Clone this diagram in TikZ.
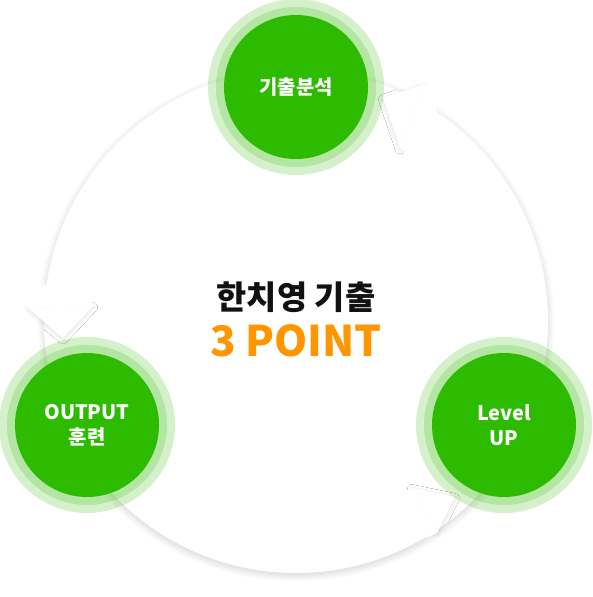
\documentclass[tikz,border=0pt]{standalone}
\usepackage{fontspec}
\setmainfont{Noto Sans CJK KR}
\usetikzlibrary{shadows.blur}
\definecolor{stagegreen}{RGB}{45,187,0}
\definecolor{pointorange}{RGB}{255,150,0}
\definecolor{titleblack}{RGB}{17,17,17}

\begin{document}
\begin{tikzpicture}[x=0.3mm,y=-0.3mm,
  stage/.style={circle,fill=stagegreen,minimum size=43.2mm,inner sep=0pt,align=center,text=white,
    font=\fontsize{17}{21}\selectfont\bfseries,
    preaction={draw=stagegreen,draw opacity=0.2,line width=9.6mm},
    preaction={draw=stagegreen,draw opacity=0.2,line width=4.8mm}},
  ring/.style={fill=white,blur shadow={shadow xshift=0pt,shadow yshift=-2pt,shadow blur radius=6pt,shadow blur steps=14,shadow opacity=18}},
  head/.style={fill=white,blur shadow={shadow xshift=0pt,shadow yshift=-1pt,shadow blur radius=4pt,shadow blur steps=10,shadow opacity=13}},
  cover/.style={fill=white}
]
\useasboundingbox (0,0) rectangle (592,597);

% cycle ring
\fill[ring] (296,321) circle (252);

% arrow heads on the ring
\fill[head] (383,98) -- (425,84) -- (400,148) -- cycle;
\fill[cover] (425,84) -- (435,90) -- (438,132) -- (410,154) -- (400,148) -- cycle;
\fill[head] (63,338) -- (28,308) -- (93,306) -- cycle;
\fill[cover] (28,308) -- (27,296) -- (58,277) -- (92,294) -- (93,306) -- cycle;
\fill[head] (455,497) -- (412,488) -- (437,533) -- cycle;
\fill[cover] (412,488) -- (401,493) -- (397,523) -- (426,538) -- (437,533) -- cycle;

% stages
\node[stage] (analysis) at (296,87)  {기출분석};
\node[stage] (output)   at (87,425)  {OUTPUT\\훈련};
\node[stage] (levelup)  at (504,425) {Level\\UP};

% center title
\node[text=titleblack,font=\fontsize{28}{32}\selectfont\bfseries] (title) at (296,297) {한치영 기출};
\node[text=pointorange,font=\fontsize{36}{40}\selectfont\bfseries] (point) at (296,341) {3 POINT};
\end{tikzpicture}
\end{document}
